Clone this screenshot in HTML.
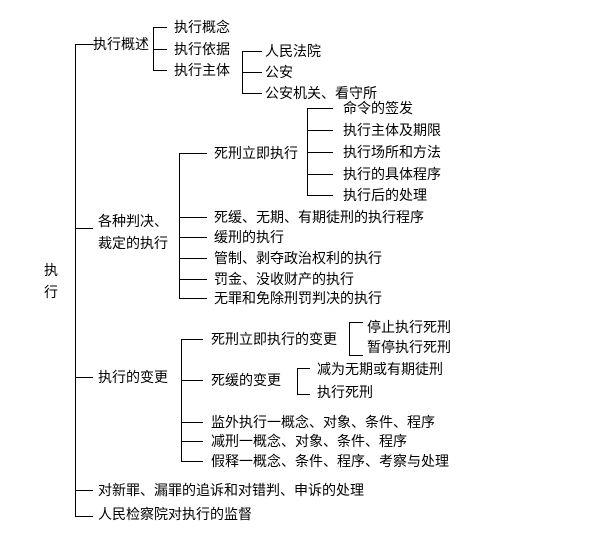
<!DOCTYPE html>
<html><head><meta charset="utf-8"><style>
html,body{margin:0;padding:0;background:#fff;}
#c{position:relative;width:606px;height:551px;overflow:hidden;background:#fff;}
.t{position:absolute;font-family:"Liberation Sans","Noto Sans CJK SC","WenQuanYi Zen Hei",sans-serif;font-size:14px;line-height:14px;color:#000;white-space:nowrap;}
svg{position:absolute;left:0;top:0;}
</style></head><body><div id="c">
<svg width="606" height="551" stroke="#000" stroke-width="1" fill="none" shape-rendering="crispEdges">
<!-- main -->
<path d="M93.5 44.5H75.5V516.5H93"/>
<path d="M75.5 228.5H93M75.5 377.5H93M75.5 490.5H93"/>
<!-- 概述 -->
<path d="M167 27.5H153.5V70.5H167M153.5 49.5H167"/>
<path d="M262 51.5H242.5V93.5H262M242.5 72.5H262"/>
<!-- 判决 -->
<path d="M207 153.5H179.5V298.5H207M179.5 217.5H207M179.5 237.5H207M179.5 258.5H207M179.5 279.5H207"/>
<path d="M333 108.5H307.5V195.5H333M307.5 130.5H333M307.5 152.5H333M307.5 174.5H333"/>
<!-- 变更 -->
<path d="M203 339.5H181.5V461.5H203M181.5 380.5H203M181.5 422.5H203M181.5 441.5H203"/>
<path d="M363 322.5H349.5V355.5H363"/>
<path d="M310 368.5H297.5V394.5H310"/>
</svg>
<div class="t" style="left:44px;top:263px">执</div>
<div class="t" style="left:44px;top:285px">行</div>
<div class="t" style="left:93px;top:37px">执行概述</div>
<div class="t" style="left:174px;top:20px">执行概念</div>
<div class="t" style="left:174px;top:42px">执行依据</div>
<div class="t" style="left:174px;top:63px">执行主体</div>
<div class="t" style="left:265px;top:44px">人民法院</div>
<div class="t" style="left:265px;top:65px">公安</div>
<div class="t" style="left:265px;top:86px">公安机关、看守所</div>
<div class="t" style="left:98px;top:214px">各种判决、</div>
<div class="t" style="left:98px;top:236px">裁定的执行</div>
<div class="t" style="left:214px;top:146px">死刑立即执行</div>
<div class="t" style="left:343px;top:101px">命令的签发</div>
<div class="t" style="left:343px;top:123px">执行主体及期限</div>
<div class="t" style="left:343px;top:145px">执行场所和方法</div>
<div class="t" style="left:343px;top:167px">执行的具体程序</div>
<div class="t" style="left:343px;top:188px">执行后的处理</div>
<div class="t" style="left:214px;top:210px">死缓、无期、有期徒刑的执行程序</div>
<div class="t" style="left:214px;top:230px">缓刑的执行</div>
<div class="t" style="left:214px;top:251px">管制、剥夺政治权利的执行</div>
<div class="t" style="left:214px;top:272px">罚金、没收财产的执行</div>
<div class="t" style="left:214px;top:291px">无罪和免除刑罚判决的执行</div>
<div class="t" style="left:98px;top:370px">执行的变更</div>
<div class="t" style="left:211px;top:332px">死刑立即执行的变更</div>
<div class="t" style="left:367px;top:320px">停止执行死刑</div>
<div class="t" style="left:367px;top:340px">暂停执行死刑</div>
<div class="t" style="left:211px;top:373px">死缓的变更</div>
<div class="t" style="left:317px;top:362px">减为无期或有期徒刑</div>
<div class="t" style="left:317px;top:385px">执行死刑</div>
<div class="t" style="left:211px;top:415px">监外执行一概念、对象、条件、程序</div>
<div class="t" style="left:211px;top:434px">减刑一概念、对象、条件、程序</div>
<div class="t" style="left:211px;top:454px">假释一概念、条件、程序、考察与处理</div>
<div class="t" style="left:98px;top:483px">对新罪、漏罪的追诉和对错判、申诉的处理</div>
<div class="t" style="left:98px;top:507px">人民检察院对执行的监督</div>
</div></body></html>
